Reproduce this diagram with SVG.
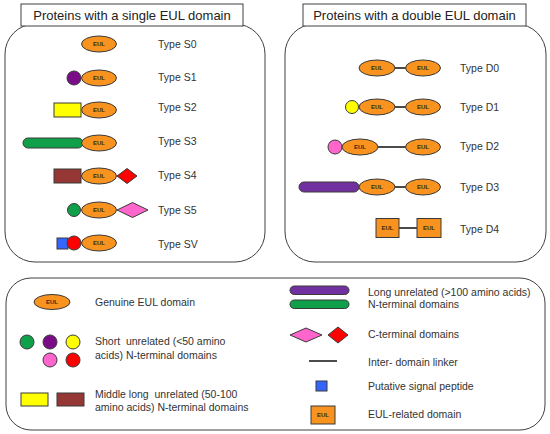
<svg xmlns="http://www.w3.org/2000/svg" width="550" height="434" viewBox="0 0 550 434">
<style>
.panel{fill:#fff;stroke:#404040;stroke-width:1}
.title{fill:#fff;stroke:#404040;stroke-width:1}
.tt{font-family:"Liberation Sans",Arial,sans-serif;font-size:13px;fill:#222}
.t{font-family:"Liberation Sans",Arial,sans-serif;font-size:10.5px;fill:#333}
.eul{fill:#F7931E;stroke:#3a3a3a;stroke-width:1}
.el{font-family:"Liberation Sans",Arial,sans-serif;font-size:6px;font-weight:bold;fill:#3a2a10;text-anchor:middle}
.sh{stroke:#3a3a3a;stroke-width:1}
.lk{stroke:#111;stroke-width:1.5}
</style>
<rect width="550" height="434" fill="#fff"/>
<g id="panel-single">
<rect class="panel" x="5" y="24" width="260" height="238" rx="30"/>
<rect class="title" x="21" y="4" width="222" height="22"/>
<text class="tt" x="132" y="19.5" text-anchor="middle">Proteins with a single EUL domain</text>
</g>
<g id="panel-double">
<rect class="panel" x="285" y="24" width="261" height="238" rx="30"/>
<rect class="title" x="303" y="4" width="223" height="22"/>
<text class="tt" x="414.5" y="19.5" text-anchor="middle">Proteins with a double EUL domain</text>
</g>
<g id="panel-legend">
<rect class="panel" x="6" y="278" width="539" height="152" rx="25"/>
</g>
<g id="connectors">
<line class="lk" x1="395" y1="68" x2="406" y2="68"/>
<line class="lk" x1="395" y1="107" x2="406" y2="107"/>
<line class="lk" x1="378" y1="147" x2="406" y2="147"/>
<line class="lk" x1="395" y1="187" x2="406" y2="187"/>
<line class="lk" x1="399" y1="228" x2="417" y2="228"/>
<line class="lk" x1="309" y1="361" x2="337" y2="361"/>
</g>
<g id="type-S0">
<ellipse class="eul" cx="99" cy="44" rx="17.5" ry="8"/><text class="el" x="99" y="46.2">EUL</text>
<text class="t" x="158" y="48">Type S0</text>
</g>
<g id="type-S1">
<circle class="sh" cx="74" cy="78" r="7" fill="#7B0C88"/>
<ellipse class="eul" cx="99" cy="78" rx="17.5" ry="8"/><text class="el" x="99" y="80.2">EUL</text>
<text class="t" x="158" y="81">Type S1</text>
</g>
<g id="type-S2">
<rect class="sh" x="54" y="103" width="27" height="14" fill="#FFFF00"/>
<ellipse class="eul" cx="99" cy="110" rx="17.5" ry="8"/><text class="el" x="99" y="112.2">EUL</text>
<text class="t" x="158" y="111">Type S2</text>
</g>
<g id="type-S3">
<rect class="sh" x="23" y="138" width="60" height="10" rx="5" fill="#10A04A"/>
<ellipse class="eul" cx="99" cy="143" rx="17.5" ry="8"/><text class="el" x="99" y="145.2">EUL</text>
<text class="t" x="158" y="145">Type S3</text>
</g>
<g id="type-S4">
<rect class="sh" x="54" y="169" width="27" height="14" fill="#953735"/>
<ellipse class="eul" cx="99" cy="176" rx="17.5" ry="8"/><text class="el" x="99" y="178.2">EUL</text>
<polygon class="sh" points="117,176 127,168.5 137,176 127,183.5" fill="#FF0000"/>
<text class="t" x="158" y="179">Type S4</text>
</g>
<g id="type-S5">
<circle class="sh" cx="74" cy="210" r="6.5" fill="#10A04A"/>
<ellipse class="eul" cx="99" cy="210" rx="17.5" ry="8"/><text class="el" x="99" y="212.2">EUL</text>
<polygon class="sh" points="117,210 132.5,202.5 148,210 132.5,217.5" fill="#FF66CC"/>
<text class="t" x="158" y="214">Type S5</text>
</g>
<g id="type-SV">
<rect class="sh" x="57" y="238" width="11" height="11" fill="#3366FF"/>
<circle class="sh" cx="74" cy="243" r="7" fill="#FF0000"/>
<ellipse class="eul" cx="99" cy="243" rx="17.5" ry="8"/><text class="el" x="99" y="245.2">EUL</text>
<text class="t" x="158" y="248">Type SV</text>
</g>
<g id="type-D0">
<ellipse class="eul" cx="377" cy="68" rx="18" ry="8"/><text class="el" x="377" y="70.2">EUL</text>
<ellipse class="eul" cx="423" cy="68" rx="17.5" ry="8"/><text class="el" x="423" y="70.2">EUL</text>
<text class="t" x="460" y="71.5">Type D0</text>
</g>
<g id="type-D1">
<circle class="sh" cx="352" cy="107" r="6.5" fill="#FFFF00"/>
<ellipse class="eul" cx="377" cy="107" rx="18" ry="8"/><text class="el" x="377" y="109.2">EUL</text>
<ellipse class="eul" cx="423" cy="107" rx="17.5" ry="8"/><text class="el" x="423" y="109.2">EUL</text>
<text class="t" x="460" y="111">Type D1</text>
</g>
<g id="type-D2">
<circle class="sh" cx="335" cy="147" r="7" fill="#FF66CC"/>
<ellipse class="eul" cx="360" cy="147" rx="18" ry="8"/><text class="el" x="360" y="149.2">EUL</text>
<ellipse class="eul" cx="423" cy="147" rx="17.5" ry="8"/><text class="el" x="423" y="149.2">EUL</text>
<text class="t" x="460" y="150">Type D2</text>
</g>
<g id="type-D3">
<rect class="sh" x="299" y="182" width="60" height="10" rx="5" fill="#7030A0"/>
<ellipse class="eul" cx="377" cy="187" rx="18" ry="8"/><text class="el" x="377" y="189.2">EUL</text>
<ellipse class="eul" cx="423" cy="187" rx="17.5" ry="8"/><text class="el" x="423" y="189.2">EUL</text>
<text class="t" x="460" y="191">Type D3</text>
</g>
<g id="type-D4">
<rect class="sh" x="376" y="218.5" width="23" height="19" fill="#F7931E"/><text class="el" x="387.5" y="230.2">EUL</text>
<rect class="sh" x="417" y="218.5" width="24" height="19" fill="#F7931E"/><text class="el" x="429" y="230.2">EUL</text>
<text class="t" x="460" y="233">Type D4</text>
</g>
<g id="legend-eul">
<ellipse class="eul" cx="52" cy="302" rx="18" ry="7.5"/><text class="el" x="52" y="304.2">EUL</text>
<text class="t" x="95" y="305.5">Genuine EUL domain</text>
</g>
<g id="legend-short">
<circle class="sh" cx="27" cy="342" r="7" fill="#10A04A"/>
<circle class="sh" cx="50" cy="342" r="7" fill="#7B0C88"/>
<circle class="sh" cx="73" cy="342" r="7" fill="#FFFF00"/>
<circle class="sh" cx="50" cy="360" r="7" fill="#FF66CC"/>
<circle class="sh" cx="73" cy="360" r="7" fill="#FF0000"/>
<text class="t" x="95" y="344.5" xml:space="preserve">Short  unrelated (&lt;50 amino</text>
<text class="t" x="95" y="358.5">acids) N-terminal domains</text>
</g>
<g id="legend-middle">
<rect class="sh" x="21" y="393" width="27" height="13" fill="#FFFF00"/>
<rect class="sh" x="57" y="393" width="27" height="13" fill="#953735"/>
<text class="t" x="95" y="397.5" xml:space="preserve">Middle long  unrelated (50-100</text>
<text class="t" x="95" y="411">amino acids) N-terminal domains</text>
</g>
<g id="legend-long">
<rect class="sh" x="290" y="286" width="59" height="8.5" rx="4.25" fill="#7030A0"/>
<rect class="sh" x="290" y="300" width="59" height="8.5" rx="4.25" fill="#10A04A"/>
<text class="t" x="368" y="295.5">Long unrelated (&gt;100 amino acids)</text>
<text class="t" x="368" y="307.5">N-terminal domains</text>
</g>
<g id="legend-cterm">
<polygon class="sh" points="290,335 306,328 322,335 306,342" fill="#FF66CC"/>
<polygon class="sh" points="328,335 338,327 348,335 338,343" fill="#FF0000"/>
<text class="t" x="368" y="337.5">C-terminal domains</text>
</g>
<g id="legend-linker">
<text class="t" x="368" y="366">Inter- domain linker</text>
</g>
<g id="legend-signal">
<rect class="sh" x="316" y="381" width="11" height="10" fill="#3366FF"/>
<text class="t" x="368" y="389.5">Putative signal peptide</text>
</g>
<g id="legend-eulrelated">
<rect class="sh" x="311" y="406" width="24" height="18" fill="#F7931E"/><text class="el" x="323" y="417.2">EUL</text>
<text class="t" x="368" y="417.5">EUL-related domain</text>
</g>
</svg>
